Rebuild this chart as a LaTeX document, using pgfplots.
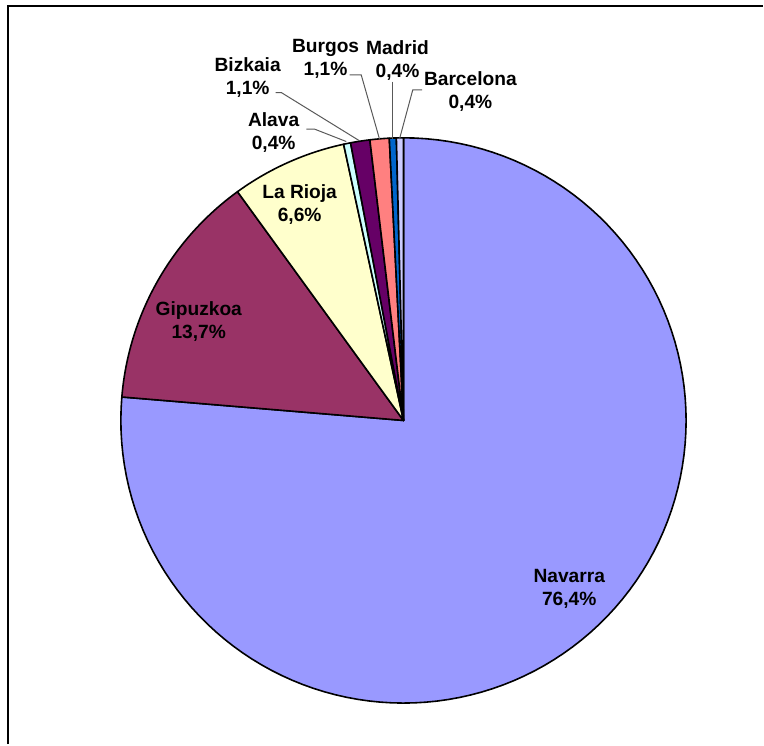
\documentclass[border=0pt]{standalone}
\usepackage{pgfplots}
\pgfplotsset{compat=1.18}
\usepackage{fontspec}
\setmainfont{Liberation Sans}
\definecolor{cNav}{HTML}{9999FF}
\definecolor{cGip}{HTML}{993366}
\definecolor{cRio}{HTML}{FFFFCC}
\definecolor{cAla}{HTML}{CCFFFF}
\definecolor{cBiz}{HTML}{660066}
\definecolor{cBur}{HTML}{FF8080}
\definecolor{cMad}{HTML}{0066CC}
\definecolor{cBar}{HTML}{CCCCFF}
% centre (404,324) and radius 283 in pixel units
\newcommand{\pieslice}[2]{% #1 value (%), #2 colour
  \pgfmathsetmacro\aend{\astart-#1*3.6/1.001}%
  \edef\temp{\noexpand\addplot[fill=#2, draw=black, line width=0.8pt, line join=round, domain=\aend:\astart, samples=120]
    ({404+283*cos(x)},{324+283*sin(x)}) -- (axis cs:404,324) -- cycle;}%
  \temp
  \xdef\astart{\aend}%
}
\begin{document}
\begin{tikzpicture}
\begin{axis}[hide axis, scale only axis, width=382pt, height=372.5pt,
  xmin=0, xmax=764, ymin=0, ymax=745, clip=false]
\path (axis cs:0,0) rectangle (axis cs:764,745);
\draw[line width=1pt] (axis cs:8,0) -- (axis cs:8,739) -- (axis cs:764,739);
\xdef\astart{90}
\pieslice{76.4}{cNav}
\pieslice{13.7}{cGip}
\pieslice{6.6}{cRio}
\pieslice{0.4}{cAla}
\pieslice{1.1}{cBiz}
\pieslice{1.1}{cBur}
\pieslice{0.4}{cMad}
\pieslice{0.4}{cBar}
% leader lines
\draw[gray!70!black, line width=0.5pt] (axis cs:306.7,615.7) -- (axis cs:315,615.7) -- (axis cs:346.7,603.3);
\draw[gray!70!black, line width=0.5pt] (axis cs:276,652.3) -- (axis cs:281.7,652.3) -- (axis cs:360,604);
\draw[gray!70!black, line width=0.5pt] (axis cs:350,670) -- (axis cs:361.7,670) -- (axis cs:380,605.7);
\draw[gray!70!black, line width=0.5pt] (axis cs:393.3,663.3) -- (axis cs:393.3,605.7);
\draw[gray!70!black, line width=0.5pt] (axis cs:422.7,655) -- (axis cs:413.3,655) -- (axis cs:400,605.7);
% labels
\tikzset{lab/.style={align=center, font=\fontsize{9.6}{11.6}\selectfont\bfseries, inner sep=0pt}}
\node[lab] at (axis cs:570,155) {Navarra\\76,4\%};
\node[lab] at (axis cs:199,423) {Gipuzkoa\\13,7\%};
\node[lab] at (axis cs:300,540) {La Rioja\\6,6\%};
\node[lab] at (axis cs:274,612) {Alava\\0,4\%};
\node[lab] at (axis cs:248,667) {Bizkaia\\1,1\%};
\node[lab] at (axis cs:326,686) {Burgos\\1,1\%};
\node[lab] at (axis cs:398,684) {Madrid\\0,4\%};
\node[lab] at (axis cs:471,653) {Barcelona\\0,4\%};
\end{axis}
\end{tikzpicture}
\end{document}
